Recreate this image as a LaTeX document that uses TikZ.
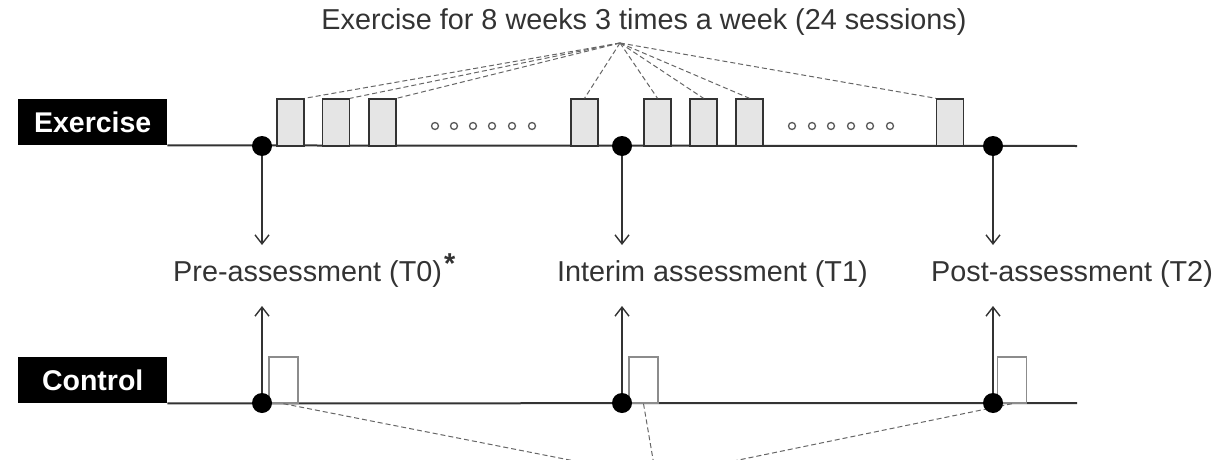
\documentclass[tikz,border=0pt]{standalone}
\usepackage{fontspec}
\setmainfont{Liberation Sans}
\usetikzlibrary{arrows.meta}
\definecolor{ink}{HTML}{333333}
\tikzset{
    txt/.style={font=\fontsize{28.8}{34}\selectfont,text=ink,inner sep=0pt},
    tag/.style={fill=black,text=white,font=\fontsize{28.5}{34}\selectfont\bfseries,minimum width=149pt,minimum height=46pt,inner sep=0pt},
    dot/.style={circle,fill=black,minimum size=20pt,inner sep=0pt},
    sess/.style={draw=ink,fill=black!10,line width=1.4pt,minimum width=27pt,minimum height=47pt,inner sep=0pt},
    ctrl/.style={draw=black!45,line width=1.4pt,minimum width=29pt,minimum height=46pt,inner sep=0pt},
    arr/.style={draw=ink,line width=1.4pt,-{Straight Barb[length=9pt,width=14pt]}},
    guide/.style={draw=black!60,line width=1pt,dash pattern=on 5pt off 3pt}
}
\begin{document}
\begin{tikzpicture}[x=1pt,y=-1pt]
    \useasboundingbox (0,0) rectangle (1225,460);
    \clip (0,0) rectangle (1225,460);
    \node[txt] (title) at (644,22) {Exercise for 8 weeks 3 times a week (24 sessions)};
    \coordinate (hub) at (620,43);
    \coordinate (low) at (656,477);
    \node[tag,anchor=north west] (ex) at (18,99) {Exercise};
    \node[tag,anchor=north west] (co) at (18,357) {Control};
    \coordinate (eend) at (1077,146);
    \coordinate (cend) at (1077,403);
    \draw[ink,line width=2pt] (ex.south east) -- (eend);
    \draw[ink,line width=2pt] (co.south east) -- (cend);
    \foreach \n/\x in {1/290.5,2/336,3/382.5,4/584.5,5/657.5,6/703.5,7/749.5,8/950}
        \node[sess] (s\n) at (\x,122.5) {};
    \foreach \x in {435,454,473,492,512,532,792,812,831,851,870,890}
        \draw[black!65,line width=1.3pt,fill=white] (\x,126) circle (3.5pt);
    \draw[guide] (hub) -- (s1.north east);
    \draw[guide] (hub) -- (s2.north east);
    \draw[guide] (hub) -- (s3.north east);
    \draw[guide] (hub) -- (s4.north);
    \draw[guide] (hub) -- (s5.north);
    \draw[guide] (hub) -- (s6.north);
    \draw[guide] (hub) -- (s7.north);
    \draw[guide] (hub) -- (s8.north west);
    \node[ctrl] (c1) at (283.5,380) {};
    \node[ctrl] (c2) at (643.5,380) {};
    \node[ctrl] (c3) at (1012,380) {};
    \draw[guide] (c1.south) -- (low);
    \draw[guide] (c2.south) -- (low);
    \draw[guide] (c3.south) -- (low);
    \node[txt,anchor=base west] (t0) at (173,281) {Pre-assessment (T0)\kern2pt\raisebox{8pt}{\textbf{*}}};
    \node[txt,anchor=base west] (t1) at (557,281) {Interim assessment (T1)};
    \node[txt,anchor=base west] (t2) at (931,281) {Post-assessment (T2)};
    \coordinate (a0) at (262,245);
    \coordinate (a1) at (622,245);
    \coordinate (a2) at (993,245);
    \coordinate (b0) at (262,306);
    \coordinate (b1) at (622,306);
    \coordinate (b2) at (993,306);
    \node[dot] (e0) at (262,146) {};
    \node[dot] (e1) at (622,146) {};
    \node[dot] (e2) at (993,146) {};
    \node[dot] (k0) at (262,403) {};
    \node[dot] (k1) at (622,403) {};
    \node[dot] (k2) at (993,403) {};
    \draw[arr] (e0) -- (a0);
    \draw[arr] (e1) -- (a1);
    \draw[arr] (e2) -- (a2);
    \draw[arr] (k0) -- (b0);
    \draw[arr] (k1) -- (b1);
    \draw[arr] (k2) -- (b2);
\end{tikzpicture}
\end{document}
